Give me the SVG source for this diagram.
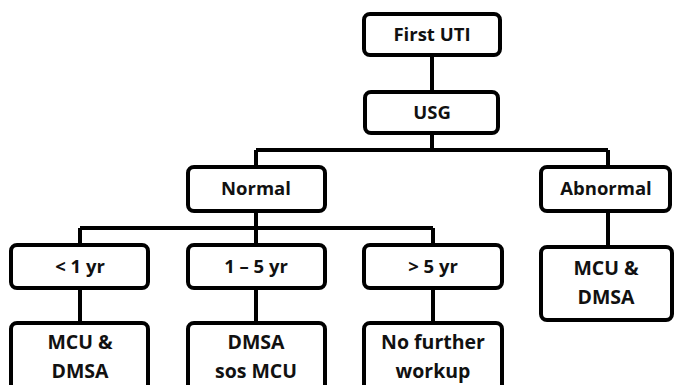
<svg xmlns="http://www.w3.org/2000/svg" width="675" height="385" viewBox="0 0 675 385">
<style>
.box{fill:#fff;stroke:#000;stroke-width:4}
.ln{fill:none;stroke:#000;stroke-width:4}
text{font-family:"Open Sans","DejaVu Sans",sans-serif;font-weight:700;font-size:18.5px;fill:#111;text-anchor:middle}
text.big{font-size:19.5px}
</style>
<rect width="675" height="385" fill="#fff"/>
<g id="connectors">
<path class="ln" d="M432 55V92"/>
<path class="ln" d="M432 133V150M256 150H608M256 150V167M608 150V167"/>
<path class="ln" d="M256 211V228M80 228H433M80 228V245M256 228V245M433 228V245"/>
<path class="ln" d="M80 288V323M256 288V323M433 288V323"/>
<path class="ln" d="M608 211V247"/>
</g>
<g id="first-uti"><rect class="box" x="364" y="14" width="136" height="41" rx="6"/><text x="432" y="41">First UTI</text></g>
<g id="usg"><rect class="box" x="365" y="92" width="133" height="41" rx="6"/><text x="432" y="119">USG</text></g>
<g id="normal"><rect class="box" x="188" y="167" width="137" height="44" rx="6"/><text x="256" y="195">Normal</text></g>
<g id="abnormal"><rect class="box" x="541" y="167" width="129" height="44" rx="6"/><text x="606" y="195">Abnormal</text></g>
<g id="lt1"><rect class="box" x="11" y="245" width="137" height="43" rx="6"/><text x="80" y="273">&lt; 1 yr</text></g>
<g id="y1to5"><rect class="box" x="188" y="245" width="137" height="43" rx="6"/><text x="256" y="273">1 – 5 yr</text></g>
<g id="gt5"><rect class="box" x="364" y="245" width="138" height="43" rx="6"/><text x="433" y="273">&gt; 5 yr</text></g>
<g id="abn-mcu"><rect class="box" x="541" y="247" width="131" height="73" rx="6"/><text class="big" x="606" y="275">MCU &amp;</text><text class="big" x="606" y="304">DMSA</text></g>
<g id="lt1-mcu"><rect class="box" x="11" y="323" width="137" height="80" rx="6"/><text class="big" x="80" y="349">MCU &amp;</text><text class="big" x="80" y="378">DMSA</text></g>
<g id="dmsa-sos"><rect class="box" x="188" y="323" width="137" height="80" rx="6"/><text class="big" x="256" y="349">DMSA</text><text class="big" x="256" y="378">sos MCU</text></g>
<g id="no-further"><rect class="box" x="364" y="323" width="138" height="80" rx="6"/><text class="big" x="433" y="349">No further</text><text class="big" x="433" y="378">workup</text></g>
</svg>
